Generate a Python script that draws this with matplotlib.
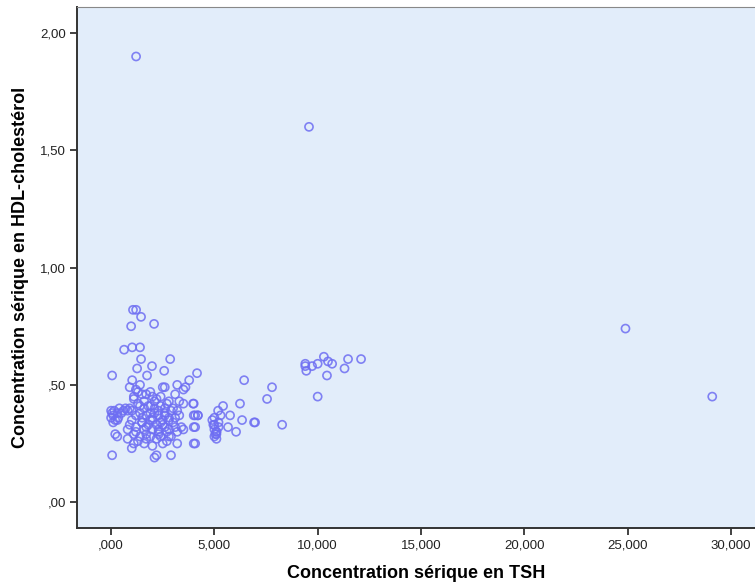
import matplotlib.pyplot as plt

# TSH (x) vs HDL-cholesterol (y)
tsh = [1.21, 9.58, 24.9, 29.1,
       # upper part of the left cluster
       1.06, 1.21, 1.45, 0.97, 2.08, 0.63, 1.02, 1.40, 1.45, 2.86, 1.26, 1.98,
       2.57, 0.05, 1.74, 4.16, 1.02, 3.78, 6.44, 7.79, 7.55, 8.28,
       # main cluster
       1.4, 0.9, 1.2, 2.5, 2.6, 3.2, 3.6, 3.5, 1.7, 1.9, 1.3,
       1.1, 1.5, 2.2, 2.4, 2.8, 3.1, 4.0, 3.5, 1.0, 1.6, 1.9, 2.3, 2.9, 3.2,
       2.6, 2.1, 0.6,
       0.0, 0.0, 0.1, 0.3, 0.5, 0.8, 1.2, 1.4, 1.7, 1.9, 2.3, 2.6, 2.8, 3.1,
       0.3, 0.1, 1.0, 1.5, 2.0, 2.4, 2.8, 3.3, 4.0, 4.2,
       0.9, 0.8, 1.2, 1.5, 1.7, 2.0, 2.3, 2.5, 2.8, 3.1, 3.4, 4.0, 1.1, 1.4,
       1.7, 1.9, 2.3, 2.4, 2.7, 3.2, 3.5, 0.2, 0.3, 0.8,
       1.0, 1.1, 1.6, 2.0, 2.5, 2.7, 3.2, 4.0, 2.1, 2.2, 2.9, 0.05, 1.3, 1.7,
       0.05, 0.15, 0.4, 0.7, 0.35, 0.2,
       # extra points in the dense core
       1.3, 1.6, 1.8, 2.1, 2.4, 2.7, 3.0, 1.5, 2.0, 2.5, 1.2, 1.8, 2.2, 2.6,
       3.0, 1.4, 2.1, 2.6, 1.9, 2.3, 2.8, 1.6, 2.2, 2.9, 3.3, 1.1, 0.9, 2.0,
       # cluster around 5
       3.97, 4.07, 4.2, 4.07, 4.07,
       4.9, 5.0, 5.0, 5.1, 5.1, 5.0, 5.2, 5.1, 5.0, 5.2, 5.1, 5.3, 4.95, 5.05,
       5.42, 5.18, 5.76, 5.66, 6.05, 6.24, 6.34, 6.92, 6.97,
       # cluster around 10
       9.4, 9.4, 9.45, 9.73, 10.0, 10.3, 10.5, 10.7, 11.47, 12.1, 11.3, 10.45,
       10.0]
hdl = [1.90, 1.60, 0.74, 0.45,
       0.82, 0.82, 0.79, 0.75, 0.76, 0.65, 0.66, 0.66, 0.61, 0.61, 0.57, 0.58,
       0.56, 0.54, 0.54, 0.55, 0.52, 0.52, 0.52, 0.49, 0.44, 0.33,
       0.50, 0.49, 0.48, 0.49, 0.49, 0.50, 0.49, 0.48, 0.46, 0.47, 0.47,
       0.45, 0.46, 0.44, 0.45, 0.43, 0.46, 0.42, 0.42, 0.39, 0.40, 0.41, 0.39, 0.39, 0.39,
       0.40, 0.38, 0.39,
       0.39, 0.36, 0.37, 0.38, 0.38, 0.39, 0.37, 0.38, 0.37, 0.38, 0.37, 0.37, 0.36, 0.36,
       0.35, 0.34, 0.35, 0.34, 0.35, 0.34, 0.35, 0.37, 0.37, 0.37,
       0.33, 0.31, 0.32, 0.34, 0.32, 0.31, 0.31, 0.33, 0.31, 0.32, 0.32, 0.32, 0.29, 0.28,
       0.29, 0.28, 0.29, 0.28, 0.30, 0.30, 0.31, 0.29, 0.28, 0.27,
       0.23, 0.25, 0.25, 0.24, 0.25, 0.26, 0.25, 0.25, 0.19, 0.20, 0.20, 0.20, 0.26, 0.27,
       0.38, 0.39, 0.40, 0.40, 0.36, 0.35,
       0.42, 0.43, 0.41, 0.43, 0.41, 0.42, 0.40, 0.36, 0.36, 0.35, 0.30, 0.33, 0.33, 0.32,
       0.34, 0.41, 0.40, 0.38, 0.35, 0.30, 0.28, 0.31, 0.27, 0.28, 0.43, 0.44, 0.40, 0.45,
       0.42, 0.37, 0.37, 0.32, 0.25,
       0.35, 0.33, 0.31, 0.30, 0.29, 0.28, 0.32, 0.27, 0.36, 0.34, 0.30, 0.37, 0.33, 0.29,
       0.41, 0.39, 0.37, 0.32, 0.30, 0.42, 0.35, 0.34, 0.34,
       0.59, 0.58, 0.56, 0.58, 0.59, 0.62, 0.60, 0.59, 0.61, 0.61, 0.57, 0.54,
       0.45]

x_ticks = [0, 5, 10, 15, 20, 25, 30]
x_ticklabels = [",000", "5,000", "10,000", "15,000", "20,000", "25,000", "30,000"]
y_ticks = [0, 0.5, 1.0, 1.5, 2.0]
y_ticklabels = [",00", ",50", "1,00", "1,50", "2,00"]

plt.rcParams['font.family'] = ['Liberation Sans', 'DejaVu Sans']

fig = plt.figure(figsize=(7.55, 5.83), dpi=100)
ax = fig.add_axes([0.102, 0.094, 0.898, 0.894])
ax.set_facecolor('#e2edfa')

ax.scatter(tsh, hdl, s=34, facecolors='none', edgecolors='#6e6ef2',
           linewidths=1.2, alpha=0.85)

ax.set_xlim(-1.65, 31.17)
ax.set_ylim(-0.111, 2.111)
ax.set_xticks(x_ticks)
ax.set_xticklabels(x_ticklabels)
ax.set_yticks(y_ticks)
ax.set_yticklabels(y_ticklabels)
ax.tick_params(direction='out', length=5, width=1.3, color='#333333',
               labelsize=9.5, labelcolor='#222222', pad=3)

for side in ['left', 'bottom']:
    ax.spines[side].set_color('#333333')
    ax.spines[side].set_linewidth(1.4)
ax.spines['top'].set_color('#888888')
ax.spines['right'].set_visible(False)

ax.set_xlabel("Concentration sérique en TSH", fontsize=13, fontweight='bold', labelpad=10)
ax.set_ylabel("Concentration sérique en HDL-cholestérol", fontsize=13, fontweight='bold', labelpad=8)

fig.savefig('out.png', dpi=100)
